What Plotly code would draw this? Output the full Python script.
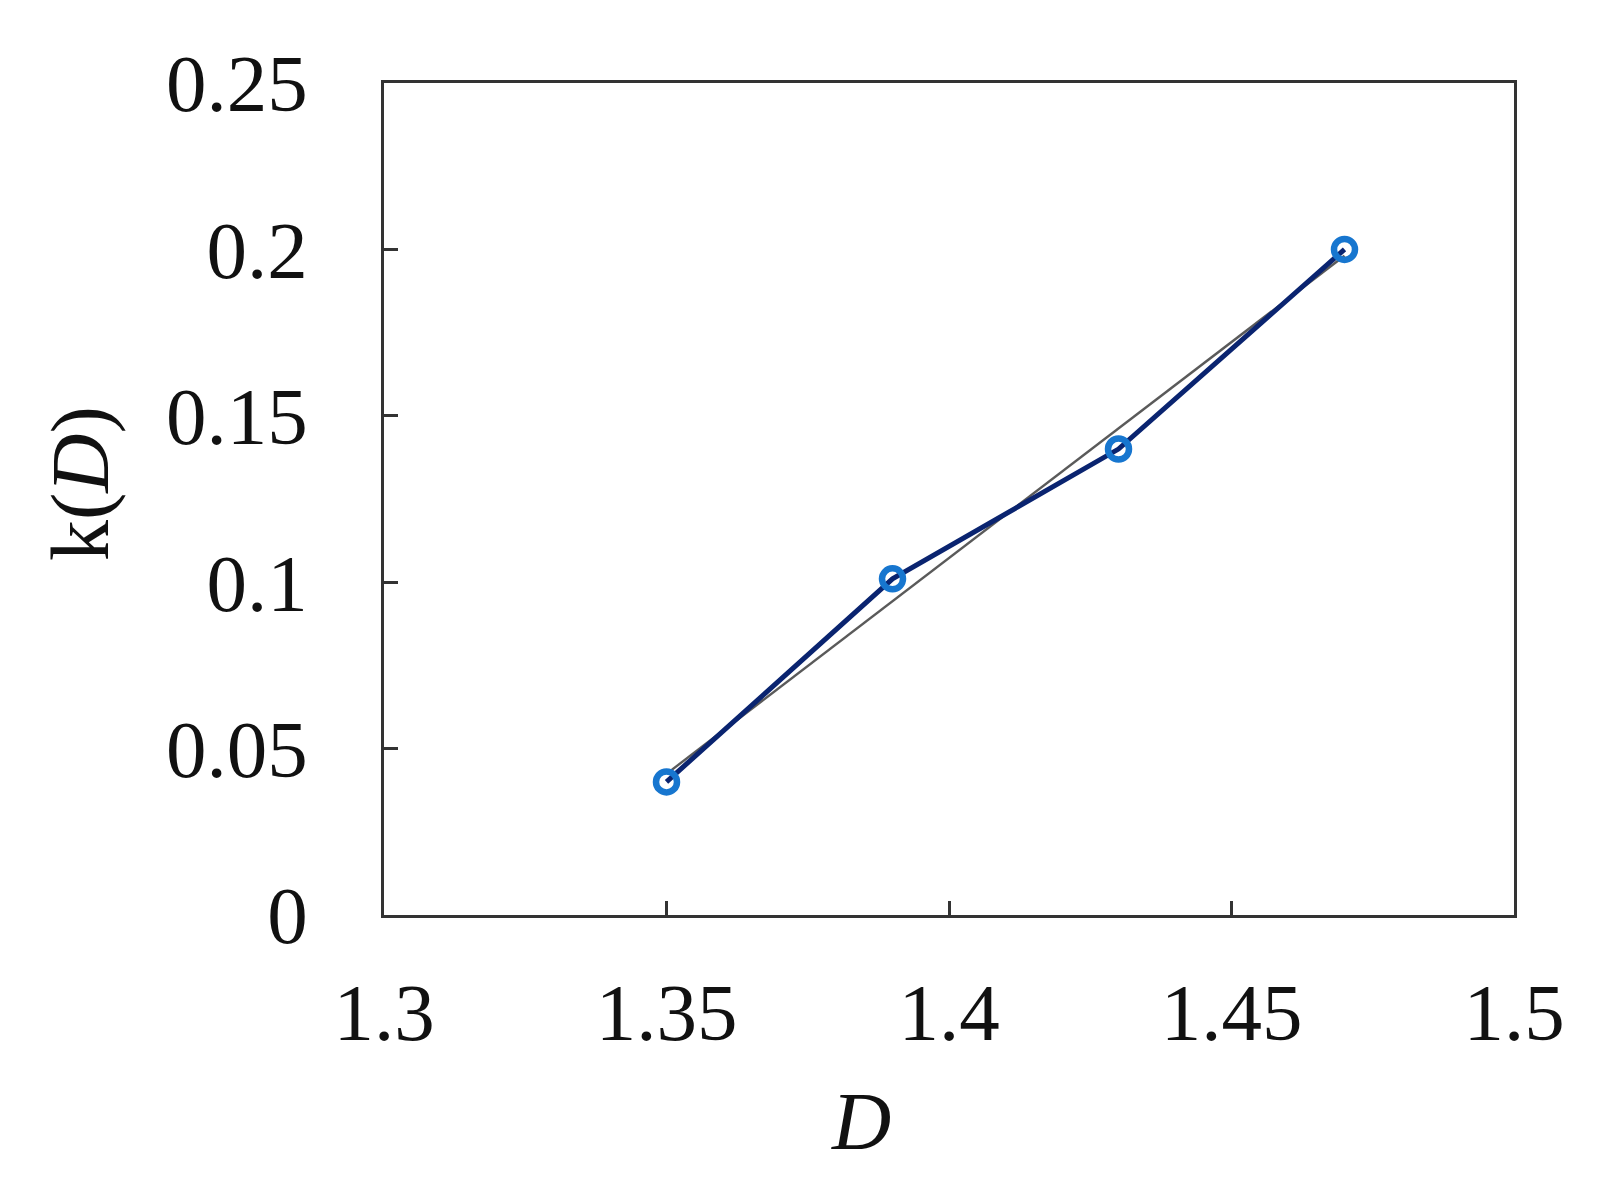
import numpy as np
import plotly.graph_objects as go

# Data
D_values = [1.35, 1.39, 1.43, 1.47]
k_values = [0.040, 0.101, 0.140, 0.200]
x_tick_vals = [1.3, 1.35, 1.4, 1.45, 1.5]
x_tick_text = ["1.3", "1.35", "1.4", "1.45", "1.5"]
y_tick_vals = [0, 0.05, 0.1, 0.15, 0.2, 0.25]
y_tick_text = ["0", "0.05", "0.1", "0.15", "0.2", "0.25"]

# linear fit derived from data
coef = np.polyfit(D_values, k_values, 1)
fit_x = [min(D_values), max(D_values)]
fit_y = [float(np.polyval(coef, v)) for v in fit_x]

FONT = "Liberation Serif, Times New Roman, serif"

W, H = 1607, 1179
L, T, PW, PH = 376, 75, 1130, 832

fig = go.Figure()
fig.add_trace(go.Scatter(x=fit_x, y=fit_y, mode="lines",
                         line=dict(color="#5a5a5a", width=2.4), showlegend=False))
fig.add_trace(go.Scatter(x=D_values, y=k_values, mode="lines",
                         line=dict(color="#0a2470", width=5), showlegend=False))
fig.add_trace(go.Scatter(x=D_values, y=k_values, mode="markers",
                         marker=dict(symbol="circle-open", size=21, color="#1776cf",
                                     line=dict(width=6.5, color="#1776cf")),
                         showlegend=False))

axis_common = dict(showgrid=False, zeroline=False, showline=True, linecolor="#333333",
                   linewidth=3, mirror=True, ticks="inside", ticklen=14, tickwidth=2.5,
                   tickcolor="#333333",
                   tickfont=dict(family=FONT, size=81, color="#111111"))

fig.update_xaxes(range=[1.3, 1.5], tickvals=x_tick_vals, ticktext=x_tick_text,
                 ticklabelstandoff=25, **axis_common)
fig.update_yaxes(range=[0, 0.25], tickvals=y_tick_vals, ticktext=y_tick_text,
                 ticklabelstandoff=57, **axis_common)

fig.add_annotation(text="<i>D</i>", xref="paper", yref="paper", x=(853 - L) / PW,
                   y=-(1113 - (T + PH)) / PH, showarrow=False, xanchor="center", yanchor="middle",
                   font=dict(family=FONT, size=82, color="#111111"))
fig.add_annotation(text="k(<i>D</i>)", xref="paper", yref="paper", x=-(L - 72) / PW,
                   y=((T + PH) - 476) / PH, showarrow=False, xanchor="center", yanchor="middle",
                   textangle=-90, font=dict(family=FONT, size=82, color="#111111"))

fig.update_layout(width=W, height=H, plot_bgcolor="white", paper_bgcolor="white",
                  margin=dict(l=L, r=W - L - PW, t=T, b=H - T - PH, autoexpand=False))

fig.write_html("out.html")
